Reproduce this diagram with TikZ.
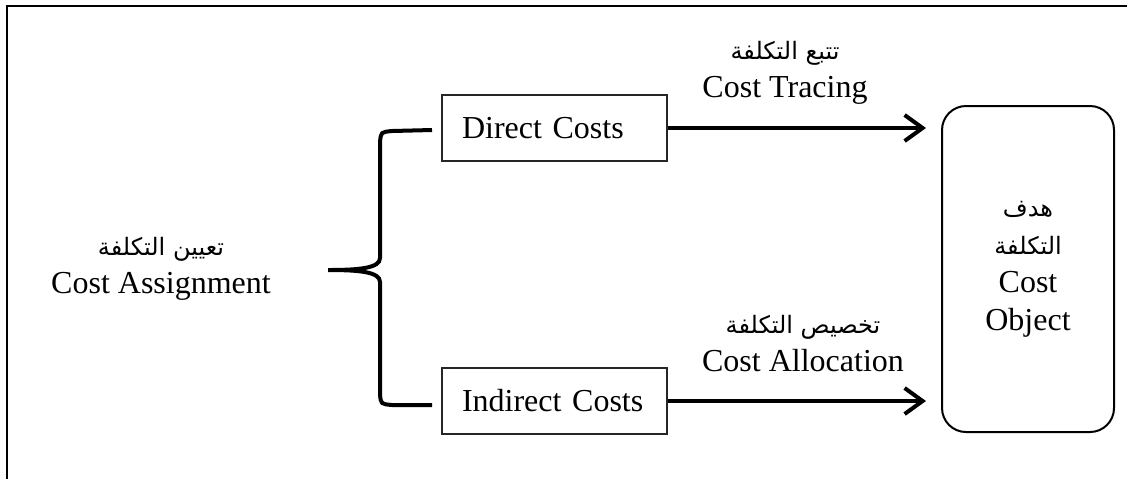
\documentclass[tikz,border=0pt]{standalone}
\usepackage{fontspec}
\setmainfont{Liberation Serif}
\newfontfamily\arabicfont[Script=Arabic]{DejaVu Sans}
\TeXXeTstate=1
\usetikzlibrary{arrows.meta}

\newcommand{\arabtext}[1]{{\arabicfont\fontsize{12}{14}\selectfont\beginR #1\endR}}

\tikzset{
  costbox/.style={draw=black!85, line width=0.7pt, minimum height=33pt,
    text width=92.5pt, inner xsep=10pt, align=left},
  objbox/.style={draw, line width=1pt, rounded corners=12pt,
    minimum width=86pt, minimum height=163pt, align=center},
  costlabel/.style={align=center},
  flow/.style={line width=2pt, -{Straight Barb[length=9pt,width=13pt]}, shorten >=7.5pt}
}

\begin{document}
\begin{tikzpicture}[x=0.5pt, y=-0.5pt, font=\fontsize{16}{19}\selectfont]
        \useasboundingbox (0,0) rectangle (1127,479);

        % Frame
        \draw[line width=1pt] (7,479) -- (7,6) -- (1127,6);

        % Cost boxes
        \node[costbox] (direct) at (554.5,128) {Direct Costs};
        \node[costbox] (indirect) at (554.5,401) {Indirect Costs};

        % Cost object
        \node[objbox] (object) at (1028,269)
            {\arabtext{هدف}\\\arabtext{التكلفة}\\Cost\\Object};

        % Labels
        \node[costlabel] (assign) at (161,269) {\arabtext{تعيين التكلفة}\\Cost Assignment};
        \node[costlabel] (tracing) at (785,73) {\arabtext{تتبع التكلفة}\\Cost Tracing};
        \node[costlabel] (allocation) at (803,344) {\arabtext{تخصيص التكلفة}\\Cost Allocation};

        % Brace
        \coordinate (btop) at (432,130);
        \coordinate (btip) at (328,270);
        \coordinate (bbot) at (432,405);
        \draw[line width=2pt] (btop) -- (392,131) .. controls (381,132) .. (380,142)
            -- (380,258) .. controls (380,268) and (360,270) .. (btip)
            .. controls (360,270) and (380,272) .. (380,282)
            -- (380,395) .. controls (381,404) .. (392,405) -- (bbot);

        % Arrows
        \draw[flow] (direct.east) -- (direct.east -| object.west);
        \draw[flow] (indirect.east) -- (indirect.east -| object.west);
    \end{tikzpicture}
\end{document}
